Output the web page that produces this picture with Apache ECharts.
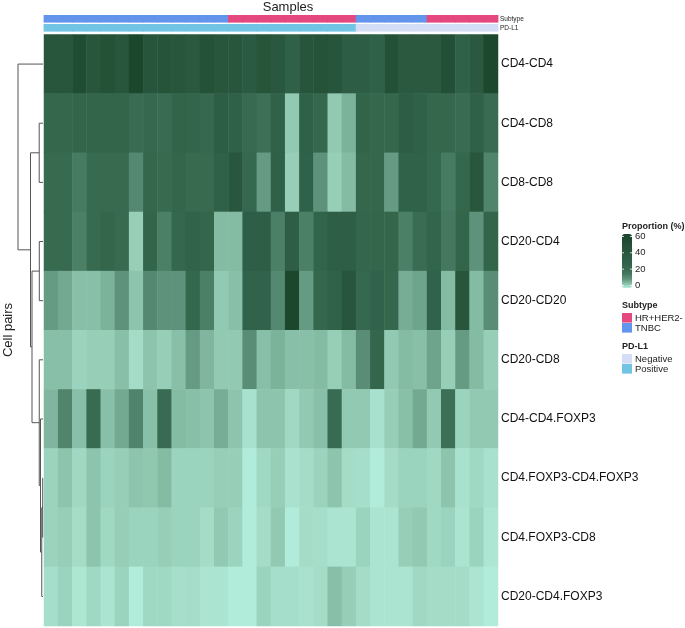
<!DOCTYPE html>
<html><head><meta charset="utf-8">
<script src="https://cdn.jsdelivr.net/npm/echarts@6/dist/echarts.min.js"></script>
<style>html,body{margin:0;padding:0;background:#fff}#c{width:685px;height:628px}</style>
</head><body><div id="c"></div>
<script>
// ---------------- data ----------------
const cellPairs = ['CD4-CD4','CD4-CD8','CD8-CD8','CD20-CD4','CD20-CD20','CD20-CD8','CD4-CD4.FOXP3','CD4.FOXP3-CD4.FOXP3','CD4.FOXP3-CD8','CD20-CD4.FOXP3'];
const samples = ['S1','S2','S3','S4','S5','S6','S7','S8','S9','S10','S11','S12','S13','S14','S15','S16','S17','S18','S19','S20','S21','S22','S23','S24','S25','S26','S27','S28','S29','S30','S31','S32'];
const subtype = ['TNBC','TNBC','TNBC','TNBC','TNBC','TNBC','TNBC','TNBC','TNBC','TNBC','TNBC','TNBC','TNBC',
  'HR+HER2-','HR+HER2-','HR+HER2-','HR+HER2-','HR+HER2-','HR+HER2-','HR+HER2-','HR+HER2-','HR+HER2-',
  'TNBC','TNBC','TNBC','TNBC','TNBC','HR+HER2-','HR+HER2-','HR+HER2-','HR+HER2-','HR+HER2-'];
const pdl1 = ['Positive','Positive','Positive','Positive','Positive','Positive','Positive','Positive','Positive','Positive','Positive',
  'Positive','Positive','Positive','Positive','Positive','Positive','Positive','Positive','Positive','Positive','Positive',
  'Negative','Negative','Negative','Negative','Negative','Negative','Negative','Negative','Negative','Negative'];

const valCD4_CD4   = [42,42,52,42,47,42,58,43,45,42,38,47,42,41,37,44,39,30,43,46,43,34,34,30,48,38,38,38,49,30,38,56];
const valCD4_CD8   = [24,24,26,26,26,26,21,23,21,27,26,23,34,30,22,19,29,4,30,24,4,6.5,27,24,24,33,30,24,24,21,30,21];
const valCD8_CD8   = [22,22,15,22,22,22,12,24,22,25,22,22,30,40,23,9,30,3.5,29,10,3.5,5.5,24,24,9,29,29,23,15,24,40,13];
const valCD20_CD4  = [22,22,14,22,25,22,3.5,26,14,24,28,25,5.5,5.5,32,32,14,32,14,27,32,32,25,25,25,14,20,26,16,26,10,26];
const valCD20_CD20 = [9,7.5,5,5,6.5,10,4.5,12,10,10,24,14,4,5,28,28,12,58,9,24,29,42,23,28,24,7,8,28,5.5,42,5.5,11];
const valCD20_CD8  = [5,5,3,3.5,3.5,5,2,4.5,3.5,5,9,6,4,4,11,5,6.5,5,5,5.5,3.5,5.5,11,25,4,5.5,5,8,3.5,9,5.5,3.5];
const valCD4_FOXP3 = [6,13,5,21,5,7.5,13,5,21,5.5,5,4.5,7,4.5,1.5,4.5,4.5,2.5,4,5,21,4,4,1.5,3.5,5,7.5,4,19,3,4,4];
const valFOXP3_FOXP3 = [3,4.5,2.5,4.5,3,3.5,4.5,4.2,5.5,3,3,3,3.5,3.5,0.5,2.5,3.5,1.5,2,3,4.5,2,1.8,0.5,2,3,3,2.5,4.5,1.5,2.5,1.5];
const valFOXP3_CD8 = [3,3.5,2,4.5,2.5,3.5,3,3,3.5,3,3,2,4,3,0.5,2,4,0.5,2,1.8,1.2,1.2,3,1.2,1.2,3.5,4,2.5,3,1.2,3,1];
const valCD20_FOXP3 = [1.8,3,1,2.5,1.2,3,0.5,2.5,2.5,1.8,2,1.2,1.2,0.5,0.5,3,1.8,1.8,1.5,2,5,3.5,2,1.2,1.2,1.2,2.5,2,2,2,1.2,0.5];

const rowValues = [valCD4_CD4,valCD4_CD8,valCD8_CD8,valCD20_CD4,valCD20_CD20,valCD20_CD8,valCD4_FOXP3,valFOXP3_FOXP3,valFOXP3_CD8,valCD20_FOXP3];

// row dendrogram merges: [id, childA, childB, height]; numbers = row index, strings = merge id
const dendroMerges = [
  ['m0', 1, 2, 0.152],
  ['m1', 3, 4, 0.148],
  ['m2', 7, 8, 0.013],
  ['m3', 'm2', 9, 0.05],
  ['m4', 6, 'm3', 0.10],
  ['m5', 5, 'm4', 0.15],
  ['m6', 'm1', 'm5', 0.44],
  ['m7', 'm0', 'm6', 0.50],
  ['m8', 0, 'm7', 1.0]
];

const colorTicks = [0, 20, 40, 60];
const heatColors = ['#b6f0de','#88bfa8','#5e927a','#467a61','#3a6c53','#34664c','#2f6048','#2c5c43','#28573e','#255439','#214f35','#1d4a2f','#19452a'];
const subtypeColors = {'HR+HER2-':'#e4487e','TNBC':'#6495ed'};
const pdl1Colors = {'Negative':'#d3ddf6','Positive':'#72c4e5'};

// ---------------- build ----------------
const FONT = 'Liberation Sans, Arial, Helvetica, sans-serif';
const heatData = [];
rowValues.forEach((arr, r) => arr.forEach((v, c) => heatData.push([c, r, v])));

const pos = {}, ht = {};
for (let i = 0; i < cellPairs.length; i++) { pos[i] = i + 0.5; ht[i] = 0; }
const dendroLines = [];
dendroMerges.forEach(([id, a, b, h]) => {
  dendroLines.push({coords: [[ht[a], pos[a]], [h, pos[a]], [h, pos[b]], [ht[b], pos[b]]]});
  pos[id] = (pos[a] + pos[b]) / 2; ht[id] = h;
});

const HM = {left: 44, top: 34.5, width: 454, height: 591.5};

function annoRender(labels, colors) {
  return function (params, api) {
    const i = api.value(0);
    const p1 = api.coord([i, 1]);
    const p0 = api.coord([i, 0]);
    const w = api.size([1, 0])[0];
    return {type:'rect', shape:{x: p1[0] - w / 2 - 0.4, y: p1[1], width: w + 0.8, height: p0[1] - p1[1]},
            style:{fill: colors[labels[i]]}};
  };
}

const chart = echarts.init(document.getElementById('c'), null, {renderer: 'canvas'});
const graphics = [];
graphics.push({type:'text', x: 288, y: 7, style:{text:'Samples', font:'13px ' + FONT, fill:'#222', align:'center', verticalAlign:'middle'}});
graphics.push({type:'text', x: 500, y: 19, style:{text:'Subtype', font:'6.5px ' + FONT, fill:'#222', verticalAlign:'middle'}});
graphics.push({type:'text', x: 500, y: 28, style:{text:'PD-L1', font:'6.5px ' + FONT, fill:'#222', verticalAlign:'middle'}});
graphics.push({type:'text', x: 8, y: 330, rotation: Math.PI/2, style:{text:'Cell pairs', font:'13px ' + FONT, fill:'#222', align:'center', verticalAlign:'middle'}});
// color legend
const LX = 622, LTop = 234, LH = 54;
graphics.push({type:'text', x: LX, y: 227, style:{text:'Proportion (%)', font:'bold 9px ' + FONT, fill:'#222', verticalAlign:'middle'}});
colorTicks.forEach(t => {
  const y = LTop + 2.5 + (LH - 5) * (1 - t / 60);
  graphics.push({type:'text', x: LX + 13, y: y, style:{text:String(t), font:'9.5px ' + FONT, fill:'#222', verticalAlign:'middle'}});
  graphics.push({type:'line', shape:{x1: LX, y1: y, x2: LX + 2, y2: y}, style:{stroke:'#fff', lineWidth:0.8}, z: 100});
  graphics.push({type:'line', shape:{x1: LX + 8, y1: y, x2: LX + 10, y2: y}, style:{stroke:'#fff', lineWidth:0.8}, z: 100});
});
function catLegend(title, top, entries, colors) {
  graphics.push({type:'text', x: LX, y: top, style:{text:title, font:'bold 9px ' + FONT, fill:'#222', verticalAlign:'middle'}});
  entries.forEach((e, i) => {
    const y = top + 7 + i * 10;
    graphics.push({type:'rect', shape:{x: LX, y: y, width: 10, height: 9.6}, style:{fill: colors[e]}});
    graphics.push({type:'text', x: LX + 13, y: y + 5, style:{text:e, font:'9.5px ' + FONT, fill:'#222', verticalAlign:'middle'}});
  });
}
catLegend('Subtype', 306, ['HR+HER2-','TNBC'], subtypeColors);
catLegend('PD-L1', 347, ['Negative','Positive'], pdl1Colors);

chart.setOption({
  animation: false,
  backgroundColor: '#fff',
  textStyle: {fontFamily: FONT},
  grid: [
    {left: HM.left, top: HM.top, width: HM.width, height: HM.height},
    {left: HM.left, top: 15, width: HM.width, height: 7.6},
    {left: HM.left, top: 24, width: HM.width, height: 7.6},
    {left: 18, top: HM.top, width: 25, height: HM.height}
  ],
  xAxis: [
    {type:'category', data: samples, gridIndex:0, show:false},
    {type:'category', data: samples, gridIndex:1, show:false},
    {type:'category', data: samples, gridIndex:2, show:false},
    {type:'value', gridIndex:3, min:0, max:1, inverse:true, show:false}
  ],
  yAxis: [
    {type:'category', data: cellPairs, gridIndex:0, inverse:true, position:'right',
     axisLine:{show:false}, axisTick:{show:false},
     axisLabel:{color:'#111', fontSize:12, margin:3, fontFamily: FONT}},
    {type:'value', gridIndex:1, min:0, max:1, show:false},
    {type:'value', gridIndex:2, min:0, max:1, show:false},
    {type:'value', gridIndex:3, min:0, max:cellPairs.length, inverse:true, show:false}
  ],
  visualMap: {
    type:'continuous', min:0, max:60, seriesIndex:0, calculable:false, show:true,
    left: LX, top: LTop, itemWidth: 10, itemHeight: LH, padding: 0, text: null,
    inRange: {color: heatColors}
  },
  graphic: graphics,
  series: [
    {type:'heatmap', xAxisIndex:0, yAxisIndex:0, data: heatData, itemStyle:{borderWidth:0}, emphasis:{disabled:true}},
    {type:'custom', xAxisIndex:1, yAxisIndex:1, silent:true, renderItem: annoRender(subtype, subtypeColors),
     data: samples.map((s, i) => [i, 1])},
    {type:'custom', xAxisIndex:2, yAxisIndex:2, silent:true, renderItem: annoRender(pdl1, pdl1Colors),
     data: samples.map((s, i) => [i, 1])},
    {type:'lines', coordinateSystem:'cartesian2d', xAxisIndex:3, yAxisIndex:3, polyline:true, silent:true,
     lineStyle:{color:'#555', width:1, opacity:1}, data: dendroLines}
  ]
});
</script></body></html>
